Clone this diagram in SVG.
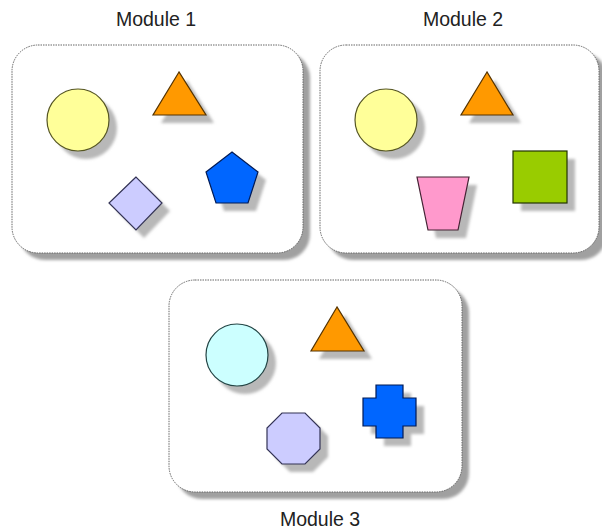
<svg xmlns="http://www.w3.org/2000/svg" width="602" height="532" viewBox="0 0 602 532">
<defs>
<filter id="blur" x="-20%" y="-20%" width="140%" height="140%"><feGaussianBlur stdDeviation="1.5"/></filter>
<style>
.lbl{font-family:"Liberation Sans",Arial,sans-serif;font-size:19.5px;fill:#222;text-anchor:middle}
.box{fill:#fff;stroke:#666;stroke-width:1;stroke-dasharray:1.5,1}
.bsh{fill:#a0a0a0;filter:url(#blur)}
.sh{fill:#b8b8b8;filter:url(#blur)}
.yel{fill:#ffff99;stroke:#555522;stroke-width:1.2}
.org{fill:#ff9900;stroke:#553300;stroke-width:1.2}
.blu{fill:#0066ff;stroke:#001a55;stroke-width:1.2}
.lav{fill:#ccccff;stroke:#333355;stroke-width:1.2}
.pnk{fill:#ff99cc;stroke:#442233;stroke-width:1.2}
.grn{fill:#99cc00;stroke:#223300;stroke-width:1.2}
.cyn{fill:#ccffff;stroke:#224444;stroke-width:1.2}
</style>
</defs>
<g id="module1">
<rect class="bsh" x="19" y="52" width="291" height="208" rx="26"/>
<rect class="box" x="12" y="45" width="291" height="208" rx="26"/>
<text class="lbl" x="156" y="26">Module 1</text>
<circle class="sh" cx="86" cy="128" r="31"/>
<circle class="yel" cx="78" cy="120" r="31"/>
<polygon class="sh" points="187,80 161,123 214,123"/>
<polygon class="org" points="179,72 153,115 206,115"/>
<polygon class="sh" points="240,160 266,180 256,211 224,211 214,180"/>
<polygon class="blu" points="232,152 258,172 248,203 216,203 206,172"/>
<polygon class="sh" points="144,185 117,211 144,238 170,211"/>
<polygon class="lav" points="136,177 109,203 136,230 162,203"/>
</g>
<g id="module2">
<rect class="bsh" x="327" y="52" width="280" height="208" rx="26"/>
<rect class="box" x="320" y="45" width="279" height="208" rx="26"/>
<text class="lbl" x="463" y="26">Module 2</text>
<circle class="sh" cx="394" cy="128" r="31"/>
<circle class="yel" cx="386" cy="120" r="31"/>
<polygon class="sh" points="495,80 469,123 521,123"/>
<polygon class="org" points="487,72 461,115 513,115"/>
<polygon class="sh" points="425,185 477,185 466,238 436,238"/>
<polygon class="pnk" points="417,177 469,177 458,230 428,230"/>
<rect class="sh" x="521" y="159" width="54" height="52"/>
<rect class="grn" x="513" y="151" width="54" height="52"/>
</g>
<g id="module3">
<rect class="bsh" x="176" y="287" width="293" height="212" rx="26"/>
<rect class="box" x="169" y="280" width="293" height="212" rx="26"/>
<text class="lbl" x="320" y="526">Module 3</text>
<circle class="sh" cx="245" cy="363" r="31"/>
<circle class="cyn" cx="237" cy="355" r="31"/>
<polygon class="sh" points="345,315 319,359 372,359"/>
<polygon class="org" points="337,307 311,351 364,351"/>
<polygon class="sh" points="290,421 313,421 328,436 328,457 313,472 290,472 275,457 275,436"/>
<polygon class="lav" points="282,413 305,413 320,428 320,449 305,464 282,464 267,449 267,428"/>
<polygon class="sh" points="384,393 411,393 411,406 424,406 424,434 411,434 411,446 384,446 384,434 371,434 371,406 384,406"/>
<polygon class="blu" points="376,385 403,385 403,398 416,398 416,426 403,426 403,438 376,438 376,426 363,426 363,398 376,398"/>
</g>
<g id="connectors"/>
</svg>
